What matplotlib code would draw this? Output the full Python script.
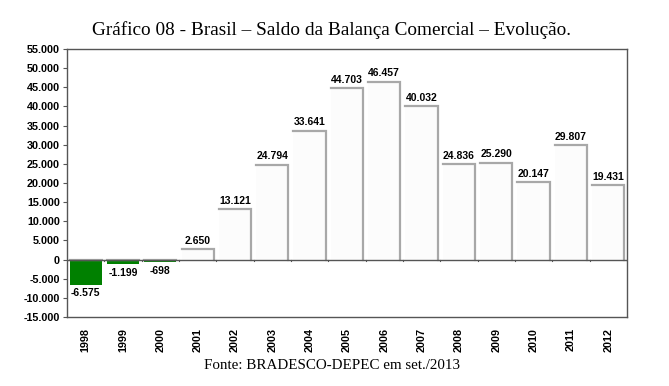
import numpy as np
import matplotlib.pyplot as plt

anos = ['1998', '1999', '2000', '2001', '2002', '2003', '2004', '2005',
        '2006', '2007', '2008', '2009', '2010', '2011', '2012']
saldo = [-6575, -1199, -698, 2650, 13121, 24794, 33641, 44703,
         46457, 40032, 24836, 25290, 20147, 29807, 19431]
rotulos = ['-6.575', '-1.199', '-698', '2.650', '13.121', '24.794', '33.641',
           '44.703', '46.457', '40.032', '24.836', '25.290', '20.147',
           '29.807', '19.431']

def fmt(v, pos=None):
    return '{:,.0f}'.format(v).replace(',', '.')

fig = plt.figure(figsize=(6.69, 3.86), dpi=100)
ax = fig.add_axes([0.100, 0.179, 0.837, 0.694])

x = np.arange(len(anos))
cores = ['#008000' if v < 0 else '#fcfcfc' for v in saldo]
bars = ax.bar(x, saldo, width=0.86, color=cores, edgecolor='none', zorder=2)

# borda cinza no topo e à direita
for b, v in zip(bars, saldo):
    x0, x1 = b.get_x(), b.get_x() + b.get_width()
    if v >= 0:
        ax.plot([x0, x1, x1], [v, v, 0], color='#a8a8a8', lw=1.6, zorder=3,
                solid_joinstyle='miter')
    else:
        ax.plot([x0, x1], [0, 0], color='#a8a8a8', lw=1.6, zorder=3)

ax.axhline(0, color='#555555', lw=1.0, zorder=4)
for xb in np.arange(-0.5, len(anos)):
    ax.plot([xb, xb], [0, -500], color='#555555', lw=0.8, zorder=4)

for xi, v, t in zip(x, saldo, rotulos):
    if v >= 0:
        ax.text(xi, v + 900, t, ha='center', va='bottom', fontsize=7.5,
                fontweight='bold', family='Liberation Sans')
    else:
        ax.text(xi, v - 900, t, ha='center', va='top', fontsize=7.5,
                fontweight='bold', family='Liberation Sans')

ax.set_xlim(-0.5, len(anos) - 0.5)
ax.set_ylim(-15000, 55000)
ax.set_yticks(np.arange(-15000, 55001, 5000))
ax.yaxis.set_major_formatter(plt.FuncFormatter(fmt))
ax.set_xticks(x)
ax.set_xticklabels(anos, rotation=90)
ax.tick_params(axis='x', length=0, pad=8)
ax.tick_params(axis='y', length=3, width=0.8, color='#555555', pad=2)
for lbl in ax.get_xticklabels() + ax.get_yticklabels():
    lbl.set_fontsize(7.8)
    lbl.set_fontweight('bold')
    lbl.set_family('Liberation Sans')
for s in ax.spines.values():
    s.set_color('#555555')
    s.set_linewidth(1.0)

fig.text(0.496, 0.922, 'Gráfico 08 - Brasil – Saldo da Balança Comercial – Evolução.',
         ha='center', va='center', fontsize=13.9, family='Liberation Serif')
fig.text(0.496, 0.052, 'Fonte: BRADESCO-DEPEC em set./2013', ha='center',
         va='center', fontsize=10.8, family='Liberation Serif')

fig.savefig('out.png', dpi=100)
